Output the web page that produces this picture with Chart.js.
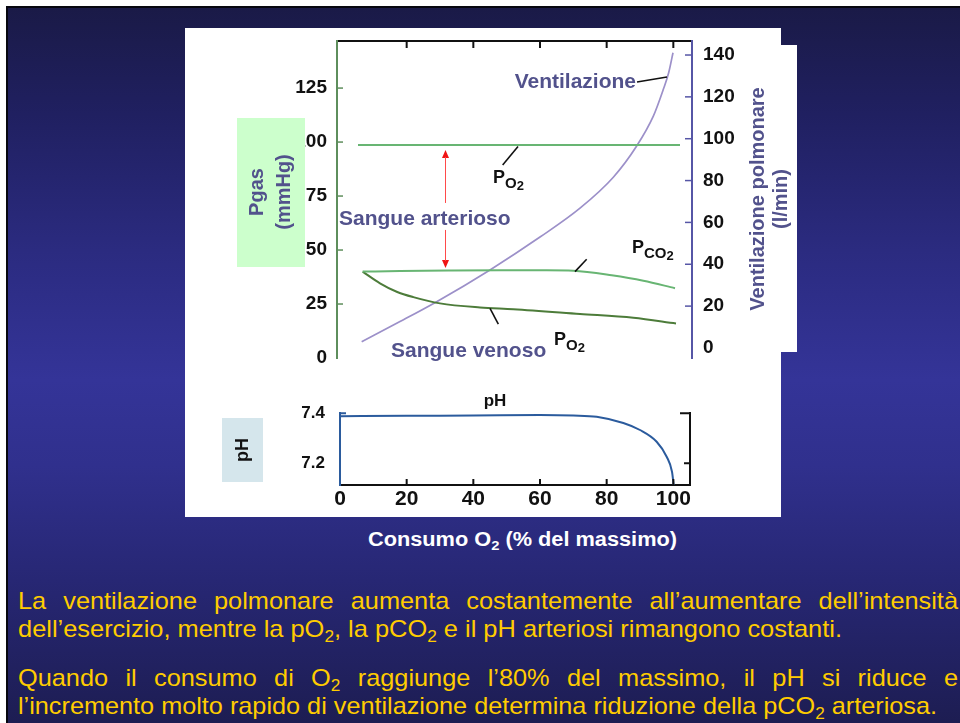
<!DOCTYPE html>
<html lang="it">
<head>
<meta charset="utf-8">
<title>Ventilazione e gas ematici durante l'esercizio</title>
<script src="https://cdn.jsdelivr.net/npm/chart.js@4.4.1/dist/chart.umd.min.js"></script>
<style>
  html, body { margin: 0; padding: 0; background: #fff; }
  #slide { position: absolute; left: 0; top: 0; width: 960px; height: 723px; overflow: hidden; background: #fff; }
  #bg {
    position: absolute; left: 6px; top: 6px; right: 0; bottom: 0;
    border-left: 2px solid #07070f; border-top: 2px solid #07070f;
    background: linear-gradient(to bottom, #1a1a47 0%, #202061 15%, #2b2b80 34%, #343498 52%, #30308d 64%, #272774 80%, #1d1d52 100%);
  }
  .panel { position: absolute; background: #fff; }
  canvas { position: absolute; }
  .txt {
    position: absolute; font-family: "Liberation Sans", Arial, sans-serif;
    transform-origin: 0 0; white-space: nowrap;
  }
  .para { left: 18px; color: #ffcc00; font-size: 24px; line-height: 24px; }
  .just { white-space: normal; text-align: justify; text-align-last: justify; }
  #xtitle { left: 368px; top: 529px; color: #fff; font-size: 20px; line-height: 20px; font-weight: bold; }
  sub { font-size: 0.68em; vertical-align: -0.28em; line-height: 0; }
</style>
</head>
<body>
<div id="slide">
  <div id="bg"></div>
  <div class="panel" style="left:185px; top:28px; width:596px; height:489px;"></div>
  <div class="panel" style="left:781px; top:45px; width:16px; height:307px;"></div>

  <canvas id="gasChart" width="612" height="340" style="left:185px; top:28px; width:612px; height:340px;"></canvas>
  <canvas id="phChart" width="520" height="149" style="left:185px; top:368px; width:520px; height:149px;"></canvas>

  <div id="xtitle" class="txt fit" data-w="309">Consumo O<sub>2</sub> (% del massimo)</div>

  <div class="txt para just" data-w="940" style="top:588.7px;">La ventilazione polmonare aumenta costantemente all’aumentare dell’intensità</div>
  <div class="txt para fit" data-w="824" style="top:616.7px;">dell’esercizio, mentre la pO<sub>2</sub>, la pCO<sub>2</sub> e il pH arteriosi rimangono costanti.</div>
  <div class="txt para just" data-w="940" style="top:665.7px;">Quando il consumo di O<sub>2</sub> raggiunge l’80% del massimo, il pH si riduce e</div>
  <div class="txt para fit" data-w="919" style="top:693.7px;">l’incremento molto rapido di ventilazione determina riduzione della pCO<sub>2</sub> arteriosa.</div>
</div>

<script>
// ---- data ----------------------------------------------------------------
// x: consumo di O2 (% del massimo)
const o2Ticks      = [20, 40, 60, 80, 100];
const o2Labels     = [0, 20, 40, 60, 80, 100];
const pgasTicks    = [0, 25, 50, 75, 100, 125];          // mmHg
const ventTicks    = [0, 20, 40, 60, 80, 100, 120, 140]; // l/min
const phTicks      = [7.2, 7.4];

// PO2 arteriosa (mmHg)
const arterialX    = [5.4, 102];
const arterialPO2  = [98.6, 98.6];
// PCO2 arteriosa (mmHg)
const co2X         = [6.8, 18, 33, 48, 62, 70, 81.5, 91, 100.5];
const co2Pgas      = [40.0, 40.3, 40.5, 40.6, 40.6, 40.4, 38.3, 35.8, 32.3];
// PO2 venosa (mmHg)
const venousX      = [6.8, 12, 17, 22, 30, 42, 52, 72, 88, 100.8];
const venousPO2    = [40.0, 34.6, 30.7, 28.2, 25.3, 23.4, 22.6, 20.4, 18.6, 16.0];
// Ventilazione polmonare (l/min)
const ventX        = [6.5, 18, 29, 45, 60, 72, 82, 89, 94, 97, 98.6, 99.9];
const ventLmin     = [3.0, 12.6, 22.1, 37.3, 53.0, 66.8, 81.6, 96.5, 110.8, 123.6, 131.5, 141.1];
// pH arterioso
const phX          = [0, 20, 40, 60, 70, 77, 85, 90, 95, 98, 99.6, 100.1];
const phValues     = [7.388, 7.390, 7.391, 7.393, 7.391, 7.386, 7.361, 7.333, 7.286, 7.226, 7.166, 7.113];

// ---- styling ---------------------------------------------------------------
const FONT = '"Liberation Sans", Arial, Helvetica, sans-serif';
const SLATE = '#52528c';
const GREEN_AXIS = '#5e8e5c';
const LIGHT_GREEN = '#68b573';
const DARK_GREEN = '#4d7c3a';
const LAVENDER = '#9c90c9';
const PURPLE_AXIS = '#5656a6';
const PH_BLUE = '#2b5b9d';
const INK = '#111111';

const pts = (xs, ys) => xs.map((x, i) => ({ x, y: ys[i] }));
const fixedTicks = values => s => { s.ticks = values.map(v => ({ value: v })); };
// fixed axis sizes, without the extra room Chart.js reserves for edge labels
const fixWidth = w => s => { s.width = w; s.paddingTop = 0; s.paddingBottom = 0; };
const fixHeight = h => s => { s.height = h; s.paddingLeft = 0; s.paddingRight = 0; };
const tickFont = size => ({ family: FONT, size, weight: 'bold' });

// inward tick marks drawn against the scales' own pixel mapping
const innerTicks = {
  id: 'innerTicks',
  afterDatasetsDraw(chart, args, opts) {
    const ctx = chart.ctx;
    (opts.marks || []).forEach(m => {
      const s = chart.scales[m.axis];
      ctx.save();
      ctx.strokeStyle = m.color;
      ctx.lineWidth = m.width || 1.5;
      m.values.forEach((v, i) => {
        const len = Array.isArray(m.length) ? m.length[i] : m.length;
        const p = s.getPixelForValue(v);
        ctx.beginPath();
        if (s.isHorizontal()) {
          const y0 = s.position === 'top' ? s.bottom : s.top;
          const dir = s.position === 'top' ? 1 : -1;
          ctx.moveTo(p, y0); ctx.lineTo(p, y0 + dir * len);
        } else {
          const x0 = s.position === 'left' ? s.right : s.left;
          const dir = s.position === 'left' ? 1 : -1;
          ctx.moveTo(x0, p); ctx.lineTo(x0 + dir * len, p);
        }
        ctx.stroke();
      });
      ctx.restore();
    });
  }
};

// text with a run of smaller, lowered characters (P + O2 etc.)
function subText(ctx, x, y, parts, color) {
  ctx.fillStyle = color;
  ctx.textAlign = 'left';
  ctx.textBaseline = 'alphabetic';
  let cx = x;
  parts.forEach(p => {
    ctx.font = `bold ${p.size}px ${FONT}`;
    ctx.fillText(p.t, cx, y + (p.dy || 0));
    cx += ctx.measureText(p.t).width;
  });
}

function line(ctx, x1, y1, x2, y2, color, w) {
  ctx.strokeStyle = color; ctx.lineWidth = w;
  ctx.beginPath(); ctx.moveTo(x1, y1); ctx.lineTo(x2, y2); ctx.stroke();
}

const gasNotes = {
  id: 'gasNotes',
  afterDatasetsDraw(chart) {
    const { ctx, chartArea: a, scales: { x, y, y2 } } = chart;
    ctx.save();

    // left axis title on its green card
    ctx.fillStyle = '#ccffcc';
    ctx.fillRect(a.left - 100, 90, 68, 149);
    ctx.save();
    ctx.translate(a.left - 74, 164);
    ctx.rotate(-Math.PI / 2);
    ctx.fillStyle = SLATE;
    ctx.font = `bold 20px ${FONT}`;
    ctx.textAlign = 'center';
    ctx.textBaseline = 'alphabetic';
    ctx.fillText('Pgas', 0, 0);
    ctx.fillText('(mmHg)', 0, 27);
    ctx.restore();

    // right axis title
    ctx.save();
    ctx.translate(a.right + 72, 171);
    ctx.rotate(-Math.PI / 2);
    ctx.fillStyle = SLATE;
    ctx.font = `bold 20px ${FONT}`;
    ctx.textAlign = 'center';
    ctx.textBaseline = 'alphabetic';
    ctx.fillText('Ventilazione polmonare', 0, 0);
    ctx.fillText('(l/min)', 0, 23);
    ctx.restore();

    // leader lines
    line(ctx, x.getPixelForValue(89.1), y2.getPixelForValue(127.1), x.getPixelForValue(98.1), y2.getPixelForValue(129.5), INK, 1.6);
    line(ctx, x.getPixelForValue(53.4), y.getPixelForValue(97.9), x.getPixelForValue(48.8), y.getPixelForValue(89.4), INK, 1.6);
    line(ctx, x.getPixelForValue(70.5), y.getPixelForValue(40.0), x.getPixelForValue(74.0), y.getPixelForValue(45.7), INK, 1.6);
    line(ctx, x.getPixelForValue(45.0), y.getPixelForValue(23.0), x.getPixelForValue(47.5), y.getPixelForValue(15.7), INK, 1.6);

    // curve labels
    ctx.fillStyle = SLATE;
    ctx.font = `bold 21px ${FONT}`;
    ctx.textBaseline = 'alphabetic';
    ctx.textAlign = 'right';
    ctx.fillText('Ventilazione', x.getPixelForValue(88.8), y2.getPixelForValue(124.3));
    ctx.textAlign = 'left';
    ctx.fillText('Sangue arterioso', x.getPixelForValue(-0.3), y.getPixelForValue(61.6));
    ctx.fillText('Sangue venoso', x.getPixelForValue(15.3), y.getPixelForValue(0.46));

    subText(ctx, x.getPixelForValue(45.9), y.getPixelForValue(81.0),
      [{ t: 'P', size: 18 }, { t: 'O', size: 15, dy: 5 }, { t: '2', size: 13, dy: 7 }], INK);
    subText(ctx, x.getPixelForValue(87.6), y.getPixelForValue(48.6),
      [{ t: 'P', size: 18 }, { t: 'CO', size: 15, dy: 5 }, { t: '2', size: 13, dy: 7 }], INK);
    subText(ctx, x.getPixelForValue(64.2), y.getPixelForValue(6.0),
      [{ t: 'P', size: 18 }, { t: 'O', size: 15, dy: 5 }, { t: '2', size: 13, dy: 7 }], INK);

    // double arrow between arterial PO2 and PCO2
    const ax = x.getPixelForValue(31.65);
    const tipTop = y.getPixelForValue(96.3);
    const tipBot = y.getPixelForValue(41.7);
    ctx.fillStyle = '#f01414';
    ctx.beginPath();
    ctx.moveTo(ax, tipTop); ctx.lineTo(ax - 3.5, tipTop + 8); ctx.lineTo(ax + 3.5, tipTop + 8); ctx.closePath(); ctx.fill();
    ctx.beginPath();
    ctx.moveTo(ax, tipBot); ctx.lineTo(ax - 3.5, tipBot - 8); ctx.lineTo(ax + 3.5, tipBot - 8); ctx.closePath(); ctx.fill();
    line(ctx, ax, tipTop + 7, ax, y.getPixelForValue(71.8), '#ff4a4a', 1);
    line(ctx, ax, y.getPixelForValue(59.3), ax, tipBot - 7, '#ff4a4a', 1);

    ctx.restore();
  }
};

new Chart(document.getElementById('gasChart'), {
  type: 'line',
  data: {
    datasets: [
      { label: 'PO2 arterioso', data: pts(arterialX, arterialPO2), yAxisID: 'y', borderColor: LIGHT_GREEN, borderWidth: 2 },
      { label: 'PCO2', data: pts(co2X, co2Pgas), yAxisID: 'y', borderColor: LIGHT_GREEN, borderWidth: 2, cubicInterpolationMode: 'monotone' },
      { label: 'PO2 venoso', data: pts(venousX, venousPO2), yAxisID: 'y', borderColor: DARK_GREEN, borderWidth: 2, cubicInterpolationMode: 'monotone' },
      { label: 'Ventilazione', data: pts(ventX, ventLmin), yAxisID: 'y2', borderColor: LAVENDER, borderWidth: 1.7, cubicInterpolationMode: 'monotone' }
    ]
  },
  options: {
    responsive: false,
    animation: false,
    events: [],
    elements: { point: { radius: 0 } },
    layout: { autoPadding: false, padding: { top: 0, bottom: 10, left: 0, right: 0 } },
    scales: {
      x: {
        type: 'linear', position: 'top', min: -0.9, max: 105.6,
        grid: { display: false, drawTicks: false },
        ticks: { display: false },
        border: { color: INK, width: 2 },
        afterFit: fixHeight(13)
      },
      y: {
        type: 'linear', position: 'left', min: 0, max: 146.8,
        afterBuildTicks: fixedTicks(pgasTicks),
        grid: { display: false, drawTicks: false },
        border: { color: GREEN_AXIS, width: 2 },
        ticks: { padding: 10, color: INK, font: tickFont(19) },
        afterFit: fixWidth(152)
      },
      y2: {
        type: 'linear', position: 'right', min: -4.8, max: 146.7,
        afterBuildTicks: fixedTicks(ventTicks),
        grid: { display: false, drawTicks: false },
        border: { color: PURPLE_AXIS, width: 2 },
        ticks: { padding: 11, color: INK, font: tickFont(19) },
        afterFit: fixWidth(105)
      }
    },
    plugins: {
      legend: { display: false },
      tooltip: { enabled: false },
      innerTicks: {
        marks: [
          { axis: 'x', values: o2Ticks, length: 7, color: INK, width: 2 },
          { axis: 'y', values: pgasTicks.slice(1), length: 6, color: GREEN_AXIS, width: 1.5 },
          { axis: 'y2', values: ventTicks.slice(1), length: 7, color: PURPLE_AXIS, width: 1.5 }
        ]
      }
    }
  },
  plugins: [innerTicks, gasNotes]
});

const phNotes = {
  id: 'phNotes',
  afterDatasetsDraw(chart) {
    const { ctx, chartArea: a, scales: { x, y } } = chart;
    ctx.save();
    ctx.fillStyle = '#d5e6ec';
    ctx.fillRect(a.left - 118, a.top + 5, 41, 64);
    ctx.save();
    ctx.translate(a.left - 92, a.top + 37);
    ctx.rotate(-Math.PI / 2);
    ctx.fillStyle = INK;
    ctx.font = `bold 18px ${FONT}`;
    ctx.textAlign = 'center';
    ctx.textBaseline = 'alphabetic';
    ctx.fillText('pH', 0, 0);
    ctx.restore();

    ctx.fillStyle = INK;
    ctx.font = `bold 17px ${FONT}`;
    ctx.textAlign = 'center';
    ctx.textBaseline = 'alphabetic';
    ctx.fillText('pH', x.getPixelForValue(46.5), y.getPixelForValue(7.429));
    ctx.restore();
  }
};

new Chart(document.getElementById('phChart'), {
  type: 'line',
  data: {
    datasets: [
      { label: 'pH', data: pts(phX, phValues), yAxisID: 'y', borderColor: PH_BLUE, borderWidth: 2, cubicInterpolationMode: 'monotone', clip: false }
    ]
  },
  options: {
    responsive: false,
    animation: false,
    events: [],
    elements: { point: { radius: 0 } },
    layout: { autoPadding: false, padding: { top: 45, bottom: 0, left: 0, right: 0 } },
    scales: {
      x: {
        type: 'linear', position: 'bottom', min: 0, max: 105,
        afterBuildTicks: fixedTicks(o2Labels),
        grid: { display: false, drawTicks: false },
        border: { color: INK, width: 2 },
        ticks: { padding: 2, color: INK, font: tickFont(21) },
        afterFit: fixHeight(32)
      },
      y: {
        type: 'linear', position: 'left', min: 7.113, max: 7.401,
        afterBuildTicks: fixedTicks(phTicks),
        grid: { display: false, drawTicks: false },
        border: { color: PH_BLUE, width: 2 },
        ticks: { padding: 15, color: INK, font: tickFont(17), callback: v => Number(v).toFixed(1) },
        afterFit: fixWidth(155)
      },
      y2: {
        type: 'linear', position: 'right', min: 7.113, max: 7.401,
        afterBuildTicks: fixedTicks(phTicks),
        grid: { display: false, drawTicks: false },
        border: { color: INK, width: 2 },
        ticks: { display: false },
        afterFit: fixWidth(15)
      }
    },
    plugins: {
      legend: { display: false },
      tooltip: { enabled: false },
      innerTicks: {
        marks: [
          { axis: 'x', values: o2Ticks, length: 6, color: INK, width: 2 },
          { axis: 'y', values: [7.4], length: 6, color: PH_BLUE, width: 2 },
          { axis: 'y2', values: [7.4, 7.2], length: [10, 6], color: INK, width: 2 }
        ]
      }
    }
  },
  plugins: [innerTicks, phNotes]
});

// slide text: condensed to the measured line widths
(function fitText() {
  const fits = Array.from(document.querySelectorAll('.fit'));
  let paraScale = [];
  fits.forEach(el => {
    const w = el.getBoundingClientRect().width;
    const s = Number(el.dataset.w) / w;
    el.style.transform = `scaleX(${s})`;
    if (el.classList.contains('para')) paraScale.push(s);
  });
  const s = paraScale.reduce((a, b) => a + b, 0) / paraScale.length;
  document.querySelectorAll('.just').forEach(el => {
    el.style.width = (Number(el.dataset.w) / s) + 'px';
    el.style.transform = `scaleX(${s})`;
  });
})();
</script>
</body>
</html>
